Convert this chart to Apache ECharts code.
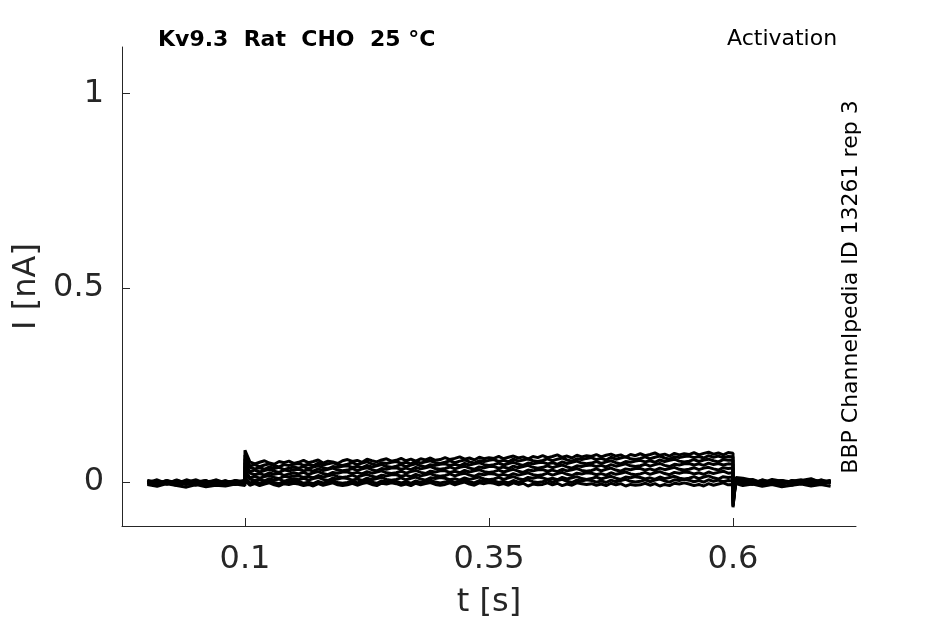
<!DOCTYPE html>
<html><head><meta charset="utf-8">
<script src="https://cdn.jsdelivr.net/npm/echarts@6/dist/echarts.min.js"></script>
<style>html,body{margin:0;padding:0;background:#fff}#c{width:945px;height:624px}</style>
</head><body><div id="c"></div>
<script>
const timeS = [0,0.01,0.02,0.03,0.04,0.05,0.06,0.07,0.08,0.09,0.1,
 0.1,
 0.105,0.11,0.115,0.12,0.125,0.13,0.135,0.14,0.145,0.15,
 0.155,0.16,0.165,0.17,0.175,0.18,0.185,0.19,0.195,0.2,
 0.205,0.21,0.215,0.22,0.225,0.23,0.235,0.24,0.245,0.25,
 0.255,0.26,0.265,0.27,0.275,0.28,0.285,0.29,0.295,0.3,
 0.305,0.31,0.315,0.32,0.325,0.33,0.335,0.34,0.345,0.35,
 0.355,0.36,0.365,0.37,0.375,0.38,0.385,0.39,0.395,0.4,
 0.405,0.41,0.415,0.42,0.425,0.43,0.435,0.44,0.445,0.45,
 0.455,0.46,0.465,0.47,0.475,0.48,0.485,0.49,0.495,0.5,
 0.505,0.51,0.515,0.52,0.525,0.53,0.535,0.54,0.545,0.55,
 0.555,0.56,0.565,0.57,0.575,0.58,0.585,0.59,0.595,0.6,
 0.6,0.603,
 0.61,0.62,0.63,0.64,0.65,0.66,0.67,0.68,0.69,0.7];

const trace1 = [0.004,-0.006,0.002,-0.004,0.006,-0.002,0.004,-0.008,0.002,0.000,0.004,
 0.082,
 0.052,0.047,0.051,0.055,0.049,0.046,0.053,0.050,0.054,0.048,
 0.051,0.056,0.050,0.053,0.057,0.049,0.054,0.052,0.048,0.055,
 0.058,0.053,0.056,0.051,0.059,0.055,0.052,0.057,0.060,0.054,
 0.056,0.061,0.055,0.059,0.054,0.060,0.057,0.062,0.056,0.058,
 0.063,0.058,0.061,0.065,0.059,0.062,0.057,0.064,0.060,0.063,
 0.061,0.066,0.060,0.064,0.067,0.062,0.065,0.059,0.066,0.063,
 0.068,0.063,0.066,0.070,0.064,0.067,0.062,0.069,0.065,0.068,
 0.066,0.071,0.065,0.069,0.072,0.067,0.070,0.064,0.071,0.068,
 0.073,0.068,0.071,0.075,0.069,0.072,0.067,0.074,0.070,0.073,
 0.071,0.076,0.070,0.074,0.077,0.072,0.075,0.070,0.076,0.074,
 -0.040,0.012,
 0.010,0.005,-0.003,0.007,0.002,-0.005,0.004,0.009,-0.002,0.002];
const trace2 = [-0.002,0.006,-0.004,0.004,-0.006,0.002,-0.004,0.006,-0.002,0.004,0.000,
 0.070,
 0.041,0.045,0.040,0.044,0.047,0.042,0.039,0.045,0.043,0.046,
 0.048,0.043,0.046,0.042,0.049,0.044,0.047,0.050,0.045,0.043,
 0.046,0.050,0.045,0.049,0.052,0.047,0.044,0.050,0.048,0.051,
 0.053,0.048,0.051,0.047,0.054,0.049,0.052,0.055,0.050,0.048,
 0.051,0.055,0.050,0.054,0.057,0.052,0.049,0.055,0.053,0.056,
 0.058,0.053,0.056,0.052,0.059,0.054,0.057,0.060,0.055,0.053,
 0.056,0.060,0.055,0.059,0.062,0.057,0.054,0.060,0.058,0.061,
 0.063,0.058,0.061,0.057,0.064,0.059,0.062,0.065,0.060,0.058,
 0.061,0.065,0.060,0.064,0.067,0.062,0.059,0.065,0.063,0.066,
 0.067,0.063,0.066,0.062,0.068,0.064,0.067,0.063,0.066,0.065,
 -0.055,0.010,
 0.007,-0.004,0.005,0.000,-0.006,0.004,-0.002,0.006,0.002,-0.004];
const trace3 = [0.002,-0.004,0.004,-0.006,0.000,0.006,-0.004,0.002,-0.008,0.004,-0.002,
 0.060,
 0.038,0.034,0.037,0.033,0.039,0.035,0.038,0.032,0.036,0.039,
 0.036,0.040,0.035,0.039,0.042,0.037,0.034,0.040,0.038,0.041,
 0.042,0.038,0.041,0.037,0.043,0.039,0.042,0.045,0.040,0.038,
 0.041,0.045,0.040,0.044,0.047,0.042,0.039,0.045,0.043,0.046,
 0.047,0.043,0.046,0.042,0.048,0.044,0.047,0.050,0.045,0.043,
 0.045,0.049,0.044,0.048,0.051,0.046,0.043,0.049,0.047,0.050,
 0.051,0.047,0.050,0.046,0.052,0.048,0.051,0.054,0.049,0.047,
 0.049,0.053,0.048,0.052,0.055,0.050,0.047,0.053,0.051,0.054,
 0.056,0.052,0.055,0.051,0.057,0.053,0.056,0.059,0.054,0.052,
 0.054,0.058,0.053,0.057,0.059,0.055,0.052,0.058,0.056,0.057,
 -0.062,0.008,
 0.004,0.007,-0.002,0.004,-0.006,0.002,0.006,-0.004,0.004,0.000];
const trace4 = [-0.004,0.002,-0.006,0.004,-0.002,-0.008,0.002,-0.004,0.004,-0.006,0.002,
 0.050,
 0.027,0.031,0.026,0.030,0.033,0.028,0.025,0.031,0.029,0.032,
 0.033,0.029,0.032,0.028,0.034,0.030,0.033,0.036,0.031,0.029,
 0.031,0.035,0.030,0.034,0.037,0.032,0.029,0.035,0.033,0.036,
 0.037,0.033,0.036,0.032,0.038,0.034,0.037,0.040,0.035,0.033,
 0.035,0.039,0.034,0.038,0.041,0.036,0.033,0.039,0.037,0.040,
 0.040,0.036,0.039,0.035,0.041,0.037,0.040,0.043,0.038,0.036,
 0.038,0.042,0.037,0.041,0.044,0.039,0.036,0.042,0.040,0.043,
 0.044,0.040,0.043,0.039,0.045,0.041,0.044,0.047,0.042,0.040,
 0.042,0.046,0.041,0.045,0.048,0.043,0.040,0.046,0.044,0.047,
 0.048,0.044,0.047,0.043,0.049,0.045,0.048,0.044,0.047,0.046,
 -0.065,0.007,
 0.002,-0.004,0.006,-0.002,0.004,-0.008,0.000,0.004,-0.004,0.002];
const trace5 = [0.000,-0.008,0.002,-0.002,-0.006,0.004,-0.006,0.000,-0.004,0.002,-0.004,
 0.040,
 0.023,0.019,0.022,0.018,0.024,0.020,0.023,0.017,0.021,0.024,
 0.021,0.025,0.020,0.024,0.027,0.022,0.019,0.025,0.023,0.026,
 0.026,0.022,0.025,0.021,0.027,0.023,0.026,0.029,0.024,0.022,
 0.024,0.028,0.023,0.027,0.030,0.025,0.022,0.028,0.026,0.029,
 0.029,0.025,0.028,0.024,0.030,0.026,0.029,0.032,0.027,0.025,
 0.027,0.031,0.026,0.030,0.033,0.028,0.025,0.031,0.029,0.032,
 0.032,0.028,0.031,0.027,0.033,0.029,0.032,0.035,0.030,0.028,
 0.030,0.034,0.029,0.033,0.036,0.031,0.028,0.034,0.032,0.035,
 0.035,0.031,0.034,0.030,0.036,0.032,0.035,0.038,0.033,0.031,
 0.033,0.037,0.032,0.036,0.038,0.034,0.031,0.037,0.035,0.036,
 -0.060,0.006,
 -0.002,0.004,-0.004,0.002,-0.006,0.004,0.000,-0.004,0.006,-0.002];
const trace6 = [0.004,0.000,-0.004,0.006,-0.004,0.000,0.004,-0.006,0.002,-0.002,0.004,
 0.030,
 0.011,0.015,0.010,0.014,0.017,0.012,0.009,0.015,0.013,0.016,
 0.016,0.012,0.015,0.011,0.017,0.013,0.016,0.019,0.014,0.012,
 0.014,0.018,0.013,0.017,0.020,0.015,0.012,0.018,0.016,0.019,
 0.019,0.015,0.018,0.014,0.020,0.016,0.019,0.022,0.017,0.015,
 0.017,0.021,0.016,0.020,0.023,0.018,0.015,0.021,0.019,0.022,
 0.021,0.017,0.020,0.016,0.022,0.018,0.021,0.024,0.019,0.017,
 0.019,0.023,0.018,0.022,0.025,0.020,0.017,0.023,0.021,0.024,
 0.023,0.019,0.022,0.018,0.024,0.020,0.023,0.026,0.021,0.019,
 0.021,0.025,0.020,0.024,0.027,0.022,0.019,0.025,0.023,0.026,
 0.025,0.021,0.024,0.020,0.026,0.022,0.025,0.028,0.023,0.024,
 -0.050,0.005,
 0.004,-0.002,0.002,-0.006,0.004,0.000,-0.004,0.002,-0.002,0.004];
const trace7 = [-0.006,0.002,-0.002,-0.008,0.004,-0.004,-0.008,0.002,-0.002,-0.006,0.000,
 0.020,
 0.008,0.004,0.007,0.003,0.009,0.005,0.008,0.002,0.006,0.009,
 0.006,0.010,0.005,0.009,0.012,0.007,0.004,0.010,0.008,0.011,
 0.009,0.005,0.008,0.004,0.010,0.006,0.009,0.012,0.007,0.005,
 0.007,0.011,0.006,0.010,0.013,0.008,0.005,0.011,0.009,0.012,
 0.010,0.006,0.009,0.005,0.011,0.007,0.010,0.013,0.008,0.006,
 0.008,0.012,0.007,0.011,0.014,0.009,0.006,0.012,0.010,0.013,
 0.011,0.007,0.010,0.006,0.012,0.008,0.011,0.014,0.009,0.007,
 0.009,0.013,0.008,0.012,0.015,0.010,0.007,0.013,0.011,0.014,
 0.012,0.008,0.011,0.007,0.013,0.009,0.012,0.015,0.010,0.008,
 0.010,0.014,0.009,0.013,0.016,0.011,0.008,0.014,0.012,0.013,
 -0.045,0.003,
 -0.004,0.002,-0.006,0.000,0.004,-0.004,0.002,-0.006,0.000,0.004];
const trace8 = [0.002,-0.004,0.004,-0.002,0.002,-0.006,0.000,0.004,-0.004,0.002,-0.002,
 0.012,
 -0.002,0.002,-0.003,0.001,0.004,-0.001,-0.004,0.002,0.000,0.003,
 0.001,-0.003,0.000,-0.004,0.002,-0.002,0.001,0.004,-0.001,-0.003,
 -0.001,0.003,-0.002,0.002,0.005,0.000,-0.003,0.003,0.001,0.004,
 0.002,-0.002,0.001,-0.003,0.003,-0.001,0.002,0.005,0.000,-0.002,
 0.000,0.004,-0.001,0.003,0.006,0.001,-0.002,0.004,0.002,0.005,
 0.003,-0.001,0.002,-0.002,0.004,0.000,0.003,0.006,0.001,-0.001,
 0.001,0.005,0.000,0.004,0.007,0.002,-0.001,0.005,0.003,0.006,
 0.004,0.000,0.003,-0.001,0.005,0.001,0.004,0.007,0.002,0.000,
 0.002,0.006,0.001,0.005,0.008,0.003,0.000,0.006,0.004,0.007,
 0.005,0.001,0.004,0.000,0.006,0.002,0.005,0.001,0.004,0.003,
 -0.035,0.001,
 0.000,-0.006,0.002,-0.004,0.002,-0.006,-0.002,0.002,-0.004,0.000];
const trace9 = [-0.006,-0.011,-0.004,-0.009,-0.013,-0.006,-0.012,-0.008,-0.010,-0.005,-0.009,
 0.005,
 -0.008,-0.004,-0.009,-0.005,-0.002,-0.007,-0.010,-0.004,-0.006,-0.003,
 -0.005,-0.009,-0.006,-0.010,-0.004,-0.008,-0.005,-0.002,-0.007,-0.009,
 -0.007,-0.003,-0.008,-0.004,-0.001,-0.006,-0.009,-0.003,-0.005,-0.002,
 -0.004,-0.008,-0.005,-0.009,-0.003,-0.007,-0.004,-0.001,-0.006,-0.008,
 -0.006,-0.002,-0.007,-0.003,0.000,-0.005,-0.008,-0.002,-0.004,-0.001,
 -0.003,-0.007,-0.004,-0.008,-0.002,-0.006,-0.003,-0.010,-0.005,-0.007,
 -0.006,-0.002,-0.007,-0.003,-0.009,-0.005,-0.008,-0.002,-0.004,-0.006,
 -0.004,-0.008,-0.005,-0.009,-0.003,-0.007,-0.004,-0.010,-0.006,-0.008,
 -0.007,-0.003,-0.008,-0.004,-0.010,-0.006,-0.009,-0.003,-0.005,-0.002,
 -0.005,-0.009,-0.006,-0.010,-0.004,-0.008,-0.005,-0.002,-0.007,-0.006,
 -0.025,-0.004,
 -0.009,-0.005,-0.011,-0.006,-0.012,-0.008,-0.005,-0.010,-0.006,-0.011];

const traces = [trace1,trace2,trace3,trace4,trace5,trace6,trace7,trace8,trace9];
const xTicks = [0.1, 0.35, 0.6];
const yTicks = [0, 0.5, 1];
const titleText = 'Kv9.3  Rat  CHO  25 °C';
const protocolText = 'Activation';
const sideText = 'BBP Channelpedia ID 13261 rep 3';

const FONT = '"DejaVu Sans", sans-serif';
const AX = '#262626';
const chart = echarts.init(document.getElementById('c'), null, {renderer:'canvas'});
chart.setOption({
  animation:false,
  backgroundColor:'#fff',
  grid:{left:122, right:89, top:47, bottom:98, containLabel:false},
  xAxis:{type:'value', min:-0.026, max:0.726,
    name:'t [s]', nameLocation:'middle', nameGap:61,
    nameTextStyle:{fontFamily:FONT, fontSize:32, color:AX},
    axisLine:{show:true, onZero:false, lineStyle:{color:AX, width:1}},
    axisTick:{show:true, inside:true, length:8, customValues:xTicks, lineStyle:{color:AX}},
    axisLabel:{customValues:xTicks, fontFamily:FONT, fontSize:32, color:AX, margin:18,
      formatter:v=>String(v)},
    splitLine:{show:false}},
  yAxis:{type:'value', min:-0.113, max:1.12,
    name:'I [nA]', nameLocation:'middle', nameGap:74, nameRotate:90,
    nameTextStyle:{fontFamily:FONT, fontSize:32, color:AX},
    axisLine:{show:true, onZero:false, lineStyle:{color:AX, width:1}},
    axisTick:{show:true, inside:true, length:8, customValues:yTicks, lineStyle:{color:AX}},
    axisLabel:{customValues:yTicks, fontFamily:FONT, fontSize:32, color:AX, margin:18,
      formatter:v=>String(v)},
    splitLine:{show:false}},
  series: traces.map(tr=>({
    type:'line', showSymbol:false, symbol:'none', silent:true,
    lineStyle:{color:'#000', width:3},
    data: timeS.map((t,i)=>[t, tr[i]])
  })),
  graphic:[
    {type:'text', x:158, y:40, style:{text:titleText, font:'bold 22px '+FONT, fill:'#000', verticalAlign:'middle'}},
    {type:'text', x:727, y:39, style:{text:protocolText, font:'22px '+FONT, fill:'#000', verticalAlign:'middle'}},
    {type:'text', x:851, y:287, rotation:Math.PI/2,
      style:{text:sideText, font:'22px '+FONT, fill:'#000', align:'center', verticalAlign:'middle'}}
  ]
});
</script></body></html>
